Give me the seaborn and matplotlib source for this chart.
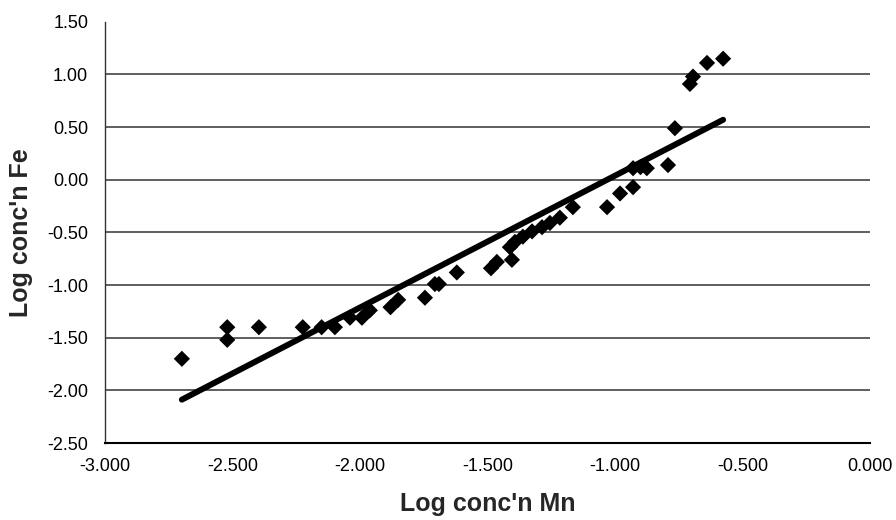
import numpy as np
import pandas as pd
import matplotlib
matplotlib.use("Agg")
import matplotlib.pyplot as plt
import seaborn as sns

# Log concentrations
log_mn = [-2.698, -2.520, -2.520, -2.396, -2.224, -2.150, -2.098, -2.039, -1.992,
          -1.961, -1.880, -1.850, -1.745, -1.706, -1.690, -1.620, -1.486, -1.463,
          -1.404, -1.412, -1.392, -1.361, -1.325, -1.286, -1.255, -1.216, -1.165,
          -1.031, -0.980, -0.929, -0.929, -0.900, -0.875, -0.792, -0.765, -0.706,
          -0.694, -0.639, -0.576]
log_fe = [-1.70, -1.40, -1.52, -1.40, -1.40, -1.40, -1.40, -1.31, -1.31,
          -1.24, -1.21, -1.14, -1.12, -0.99, -0.99, -0.88, -0.84, -0.78,
          -0.76, -0.64, -0.59, -0.54, -0.49, -0.45, -0.41, -0.36, -0.26,
          -0.26, -0.13, -0.07, 0.11, 0.12, 0.11, 0.14, 0.49, 0.91,
          0.98, 1.11, 1.15]

x_ticks = [-3.0, -2.5, -2.0, -1.5, -1.0, -0.5, 0.0]
y_ticks = [-2.5, -2.0, -1.5, -1.0, -0.5, 0.0, 0.5, 1.0, 1.5]

df = pd.DataFrame({"mn": log_mn, "fe": log_fe})

sns.set_style("white")
plt.rcParams["font.family"] = ["Liberation Sans", "DejaVu Sans"]

fig = plt.figure(figsize=(8.96, 5.2), dpi=100)
ax = fig.add_axes([0.117, 0.148, 0.854, 0.81])

sns.regplot(data=df, x="mn", y="fe", ax=ax, ci=None, truncate=True,
            marker="D",
            scatter_kws={"s": 68, "color": "black", "alpha": 1,
                         "edgecolors": "none", "zorder": 3},
            line_kws={"color": "black", "lw": 4.3, "solid_capstyle": "round", "zorder": 4})

ax.set_xlim(-3.0, 0.0)
ax.set_ylim(-2.5, 1.5)
ax.set_xticks(x_ticks)
ax.set_xticklabels([f"{v:.3f}" for v in x_ticks])
ax.set_yticks(y_ticks)
ax.set_yticklabels([f"{v:.2f}" for v in y_ticks])
ax.tick_params(axis="both", labelsize=13, colors="black")
ax.tick_params(axis="y", length=4, width=1, direction="out", pad=8)
ax.tick_params(axis="x", length=0, pad=11)

for y in y_ticks[1:-1]:
    ax.axhline(y, color="#333333", lw=1.1, zorder=1)

sns.despine(ax=ax, top=True, right=True)
ax.spines["left"].set_color("#333333")
ax.spines["left"].set_linewidth(1.0)
ax.spines["bottom"].set_color("black")
ax.spines["bottom"].set_linewidth(1.5)

ax.set_xlabel("Log conc'n Mn", fontsize=18, fontweight="bold", labelpad=12)
ax.set_ylabel("Log conc'n Fe", fontsize=18, fontweight="bold", labelpad=10)

plt.savefig("out.png", dpi=100)
